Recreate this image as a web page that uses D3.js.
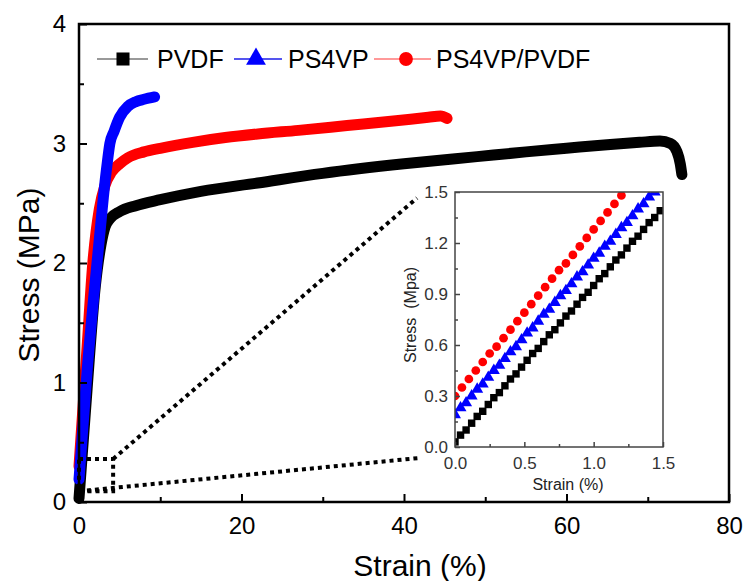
<!DOCTYPE html>
<html><head><meta charset="utf-8">
<script src="https://cdn.jsdelivr.net/npm/d3@7"></script>
<style>body{margin:0;background:#fff}svg{display:block}text{font-family:"Liberation Sans",Arial,sans-serif}</style>
</head><body>
<svg id="c" width="749" height="581"></svg>
<script>
// ---------- data ----------
const seriesNames = ["PVDF", "PS4VP", "PS4VP/PVDF"];
const seriesColors = ["#000000", "#0000ff", "#ff0000"];
const legendLineColors = ["#999999", "#5555ee", "#ff9999"];

// main curves: strain (%) / stress (MPa)
const pvdfStrain = [0,1,2,2.7,3.2,3.8,5,7,10,15,22,30,40,49,55,60,65,69,71.5,72.8,73.6,74.0,74.2];
const pvdfStress = [0.03,0.95,1.8,2.15,2.3,2.37,2.43,2.48,2.53,2.60,2.67,2.75,2.83,2.89,2.93,2.96,2.99,3.01,3.02,3.0,2.93,2.83,2.74];
const ps4vpStrain = [0,1,2,2.5,3,3.5,3.8,4.3,5,6,7,8,9.3];
const ps4vpStress = [0.19,1.1,1.85,2.2,2.55,2.85,3.0,3.1,3.22,3.31,3.35,3.37,3.39];
const blendStrain = [0,1,1.7,2.5,3.2,4,5,6,8,10,14,18,22,27,33,39,43,44.5,45.3];
const blendStress = [0.3,1.3,2.0,2.45,2.65,2.76,2.83,2.88,2.93,2.96,3.01,3.05,3.08,3.11,3.15,3.19,3.22,3.23,3.21];

// inset points
const insetPvdfStrain = [0,0.04,0.08,0.12,0.16,0.20,0.24,0.28,0.32,0.36,0.40,0.44,0.48,0.52,0.56,0.60,0.64,0.68,0.72,0.76,0.80,0.84,0.88,0.92,0.96,1.00,1.04,1.08,1.12,1.16,1.20,1.24,1.28,1.32,1.36,1.40,1.44,1.48];
const insetPvdfStress = [0.03,0.07,0.10,0.14,0.18,0.21,0.25,0.29,0.32,0.36,0.40,0.43,0.47,0.51,0.55,0.58,0.62,0.66,0.69,0.73,0.77,0.80,0.84,0.88,0.91,0.95,0.99,1.02,1.06,1.10,1.13,1.17,1.21,1.24,1.28,1.32,1.35,1.39];
const insetPs4vpStrain = [0,0.04,0.08,0.12,0.16,0.20,0.24,0.28,0.32,0.36,0.40,0.44,0.48,0.52,0.56,0.60,0.64,0.68,0.72,0.76,0.80,0.84,0.88,0.92,0.96,1.00,1.04,1.08,1.12,1.16,1.20,1.24,1.28,1.32,1.36,1.40,1.44];
const insetPs4vpStress = [0.19,0.23,0.26,0.30,0.34,0.37,0.41,0.45,0.48,0.52,0.56,0.59,0.63,0.67,0.70,0.74,0.78,0.81,0.85,0.89,0.92,0.96,1.00,1.03,1.07,1.11,1.14,1.18,1.21,1.25,1.29,1.32,1.36,1.40,1.43,1.47,1.50];
const insetBlendStrain = [0,0.05,0.10,0.15,0.20,0.25,0.30,0.35,0.40,0.45,0.50,0.55,0.60,0.65,0.70,0.75,0.80,0.85,0.90,0.95,1.00,1.05,1.10,1.15,1.20];
const insetBlendStress = [0.30,0.35,0.40,0.45,0.50,0.55,0.59,0.64,0.69,0.74,0.79,0.84,0.89,0.94,0.99,1.04,1.08,1.13,1.18,1.23,1.28,1.33,1.38,1.43,1.48];

const xTicks = [0,20,40,60,80], xMinor = [10,30,50,70];
const yTicks = [0,1,2,3,4], yMinor = [0.5,1.5,2.5,3.5];
const ixTicks = [0,0.5,1.0,1.5], ixMinor = [0.25,0.75,1.25];
const iyTicks = [0,0.3,0.6,0.9,1.2,1.5], iyMinor = [0.15,0.45,0.75,1.05,1.35];

// zoom box (data coords of main chart)
const zoomBox = {x0:0, x1:4.2, y0:0.09, y1:0.36};

// ---------- drawing ----------
const svg = d3.select("#c");
const x = d3.scaleLinear().domain([0,80]).range([79,729]);
const y = d3.scaleLinear().domain([0,4]).range([502,24]);

const zip = (a,b)=>a.map((v,i)=>[v,b[i]]);
const mainSeries = [zip(pvdfStrain,pvdfStress), zip(ps4vpStrain,ps4vpStress), zip(blendStrain,blendStress)];

const line = d3.line().x(d=>x(d[0])).y(d=>y(d[1])).curve(d3.curveMonotoneX);
[0,2,1].forEach(i=>{
  svg.append("path").attr("d", line(mainSeries[i])).attr("fill","none")
    .attr("stroke", seriesColors[i]).attr("stroke-width",11)
    .attr("stroke-linecap","round").attr("stroke-linejoin","round");
});

// axes
const fmtInt = d3.format("d");
const gx = svg.append("g").attr("transform","translate(0,502)")
  .call(d3.axisBottom(x).tickValues(xTicks).tickSize(-8).tickPadding(15).tickFormat(fmtInt));
const gxm = svg.append("g").attr("transform","translate(0,502)")
  .call(d3.axisBottom(x).tickValues(xMinor).tickSize(-5).tickFormat(""));
const gy = svg.append("g").attr("transform","translate(79,0)")
  .call(d3.axisLeft(y).tickValues(yTicks).tickSize(-8).tickPadding(13).tickFormat(fmtInt));
const gym = svg.append("g").attr("transform","translate(79,0)")
  .call(d3.axisLeft(y).tickValues(yMinor).tickSize(-5).tickFormat(""));
[gx,gxm,gy,gym].forEach(g=>{
  g.select(".domain").remove();
  g.selectAll("line").attr("stroke","#000").attr("stroke-width",2);
  g.selectAll("text").attr("font-size",24).attr("fill","#000").attr("font-family","Liberation Sans, Arial, sans-serif");
});
svg.append("rect").attr("x",79).attr("y",24).attr("width",650).attr("height",478)
  .attr("fill","none").attr("stroke","#000").attr("stroke-width",2.5);

// axis titles
svg.append("text").attr("x",420).attr("y",576).attr("text-anchor","middle")
  .attr("font-size",30).text("Strain (%)");
svg.append("text").attr("transform","translate(39,275) rotate(-90)").attr("text-anchor","middle")
  .attr("font-size",30).text("Stress (MPa)");

// legend
const legendY = 59;
const legendItems = [
  {l0:97,l1:148,m:123,t:157},
  {l0:234,l1:282,m:256,t:288},
  {l0:374,l1:431,m:406,t:436}
];
const symbols = [d3.symbolSquare, d3.symbolTriangle, d3.symbolCircle];
const legendSizes = [170, 170, 150];
legendItems.forEach((it,i)=>{
  svg.append("line").attr("x1",it.l0).attr("x2",it.l1).attr("y1",legendY).attr("y2",legendY)
    .attr("stroke",legendLineColors[i]).attr("stroke-width",2);
  svg.append("path").attr("d", d3.symbol(symbols[i], legendSizes[i])())
    .attr("transform",`translate(${it.m},${legendY})`).attr("fill",seriesColors[i]);
  svg.append("text").attr("x",it.t).attr("y",legendY+9).attr("font-size",25).text(seriesNames[i]);
});

// zoom box and connectors (dotted)
const dot = g=>g.attr("fill","none").attr("stroke","#000").attr("stroke-width",4).attr("stroke-dasharray","4 4");
svg.append("rect").attr("x",x(zoomBox.x0)).attr("y",y(zoomBox.y1))
  .attr("width",x(zoomBox.x1)-x(zoomBox.x0)).attr("height",y(zoomBox.y0)-y(zoomBox.y1)).call(dot);

// inset
const ix = d3.scaleLinear().domain([0,1.5]).range([455,663]);
const iy = d3.scaleLinear().domain([0,1.5]).range([447,192]);
svg.append("line").attr("x1",x(zoomBox.x1)).attr("y1",y(zoomBox.y1)).attr("x2",ix(0)-38).attr("y2",iy(1.5)+6).call(dot);
svg.append("line").attr("x1",x(zoomBox.x0)).attr("y1",y(zoomBox.y0)).attr("x2",ix(0)-36).attr("y2",iy(0)+11).call(dot);

const inset = svg.append("g");
inset.append("rect").attr("x",455).attr("y",192).attr("width",208).attr("height",255).attr("fill","#fff");
svg.append("defs").append("clipPath").attr("id","ic").append("rect")
  .attr("x",455).attr("y",192).attr("width",208).attr("height",255);
const pts = inset.append("g").attr("clip-path","url(#ic)");
const insetSeries = [zip(insetPvdfStrain,insetPvdfStress), zip(insetPs4vpStrain,insetPs4vpStress), zip(insetBlendStrain,insetBlendStress)];
const insetSizes = [55, 62, 60];
insetSeries.forEach((s,i)=>{
  pts.selectAll(null).data(s).enter().append("path")
    .attr("d", d3.symbol(symbols[i], insetSizes[i])())
    .attr("transform", d=>`translate(${ix(d[0])},${iy(d[1])})`)
    .attr("fill", seriesColors[i]);
});
const fmt1 = d3.format(".1f");
const ig = [
  inset.append("g").attr("transform","translate(0,447)").call(d3.axisBottom(ix).tickValues(ixTicks).tickSize(-5).tickPadding(10).tickFormat(fmt1)),
  inset.append("g").attr("transform","translate(0,447)").call(d3.axisBottom(ix).tickValues(ixMinor).tickSize(-3).tickFormat("")),
  inset.append("g").attr("transform","translate(455,0)").call(d3.axisLeft(iy).tickValues(iyTicks).tickSize(-5).tickPadding(7).tickFormat(fmt1)),
  inset.append("g").attr("transform","translate(455,0)").call(d3.axisLeft(iy).tickValues(iyMinor).tickSize(-3).tickFormat(""))
];
ig.forEach(g=>{
  g.select(".domain").remove();
  g.selectAll("line").attr("stroke","#444").attr("stroke-width",1.5);
  g.selectAll("text").attr("font-size",17).attr("fill","#333").attr("font-family","Liberation Sans, Arial, sans-serif");
});
inset.append("rect").attr("x",455).attr("y",192).attr("width",208).attr("height",255)
  .attr("fill","none").attr("stroke","#444").attr("stroke-width",1.5);
inset.append("text").attr("x",568).attr("y",490).attr("text-anchor","middle").attr("font-size",16).attr("fill","#222").text("Strain (%)");
inset.append("text").attr("transform","translate(416,315) rotate(-90)").attr("text-anchor","middle")
  .attr("font-size",16).attr("fill","#222").attr("xml:space","preserve").style("white-space","pre").text("Stress  (Mpa)");
</script>
</body></html>
